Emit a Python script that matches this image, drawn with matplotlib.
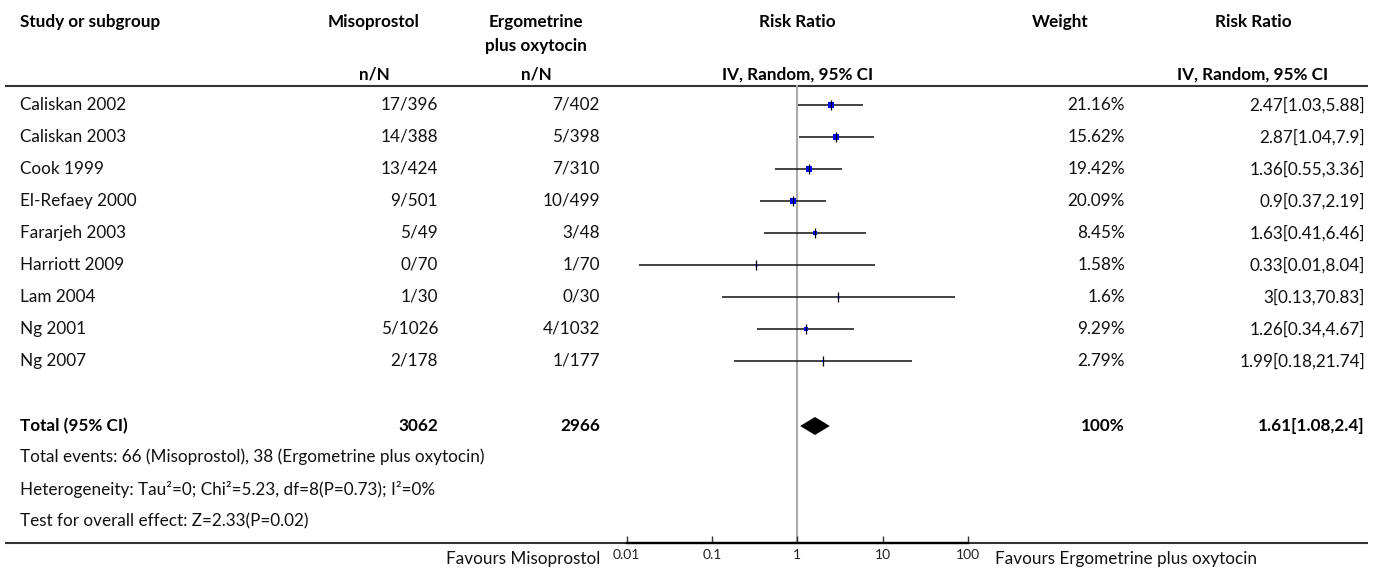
import matplotlib
matplotlib.use("Agg")
import matplotlib.pyplot as plt
import numpy as np

plt.rcParams['font.family'] = ['Lato', 'DejaVu Sans']

# ---------------- data ----------------
studies = ["Caliskan 2002", "Caliskan 2003", "Cook 1999", "El-Refaey 2000",
           "Fararjeh 2003", "Harriott 2009", "Lam 2004", "Ng 2001", "Ng 2007"]
miso_events = [17, 14, 13, 9, 5, 0, 1, 5, 2]
miso_totals = [396, 388, 424, 501, 49, 70, 30, 1026, 178]
ergo_events = [7, 5, 7, 10, 3, 1, 0, 4, 1]
ergo_totals = [402, 398, 310, 499, 48, 70, 30, 1032, 177]
rr = [2.47, 2.87, 1.36, 0.9, 1.63, 0.33, 3, 1.26, 1.99]
ci_low = [1.03, 1.04, 0.55, 0.37, 0.41, 0.014, 0.13, 0.34, 0.18]
ci_high = [5.88, 7.9, 3.36, 2.19, 6.46, 8.04, 70.83, 4.67, 21.74]
weights = [21.16, 15.62, 19.42, 20.09, 8.45, 1.58, 1.6, 9.29, 2.79]

total_miso = 3062
total_ergo = 2966
total_rr = 1.61
total_low = 1.08
total_high = 2.4
total_weight = 100

footer_lines = [
    "Total events: 66 (Misoprostol), 38 (Ergometrine plus oxytocin)",
    "Heterogeneity: Tau\u00b2=0; Chi\u00b2=5.23, df=8(P=0.73); I\u00b2=0%",
    "Test for overall effect: Z=2.33(P=0.02)",
]
tick_values = [0.01, 0.1, 1, 10, 100]
tick_labels = ["0.01", "0.1", "1", "10", "100"]
favours_left = "Favours Misoprostol"
favours_right = "Favours Ergometrine plus oxytocin"


def fmt(v):
    return f"{round(v, 2):g}"


# ---------------- layout (pixels) ----------------
W, H = 1375, 574
fig = plt.figure(figsize=(W / 100, H / 100), dpi=100)
ax = fig.add_axes([0, 0, 1, 1])
ax.set_xlim(0, W)
ax.set_ylim(H, 0)
ax.axis('off')

FS = 12.3
BOLD = dict(fontsize=FS, fontweight='bold', color='black')
NORM = dict(fontsize=FS, color='#111111')

x_name = 20
x_miso_head = 374
x_miso = 438
x_ergo_head = 536
x_ergo = 600
x_plot = 797.3
x_weight_head = 1060
x_weight = 1125
x_rr_head = 1253
x_rr = 1365

y_h1, y_h2, y_h3 = 22, 46, 75
y_hline = 86
row_y0, row_dy = 105, 32
y_total = 426
y_footer = [457, 489, 521]
y_bottom = 543

# headers
ax.text(x_name, y_h1, "Study or subgroup", ha='left', va='center', **BOLD)
ax.text(x_miso_head, y_h1, "Misoprostol", ha='center', va='center', **BOLD)
ax.text(x_ergo_head, y_h1, "Ergometrine", ha='center', va='center', **BOLD)
ax.text(x_ergo_head, y_h2, "plus oxytocin", ha='center', va='center', **BOLD)
ax.text(x_plot, y_h1, "Risk Ratio", ha='center', va='center', **BOLD)
ax.text(x_weight_head, y_h1, "Weight", ha='center', va='center', **BOLD)
ax.text(x_rr_head, y_h1, "Risk Ratio", ha='center', va='center', **BOLD)
ax.text(x_miso_head, y_h3, "n/N", ha='center', va='center', **BOLD)
ax.text(x_ergo_head, y_h3, "n/N", ha='center', va='center', **BOLD)
ax.text(x_plot, y_h3, "IV, Random, 95% CI", ha='center', va='center', **BOLD)
ax.text(x_rr_head, y_h3, "IV, Random, 95% CI", ha='center', va='center', **BOLD)
ax.plot([5, 1368], [y_hline, y_hline], color='#333333', lw=1.5, solid_capstyle='butt')

# rows
row_ys = [row_y0 + i * row_dy for i in range(len(studies))]
for i, y in enumerate(row_ys):
    ax.text(x_name, y, studies[i], ha='left', va='center', **NORM)
    ax.text(x_miso, y, f"{miso_events[i]}/{miso_totals[i]}", ha='right', va='center', **NORM)
    ax.text(x_ergo, y, f"{ergo_events[i]}/{ergo_totals[i]}", ha='right', va='center', **NORM)
    ax.text(x_weight, y, f"{weights[i]:g}%", ha='right', va='center', **NORM)
    ax.text(x_rr, y, f"{fmt(rr[i])}[{fmt(ci_low[i])},{fmt(ci_high[i])}]",
            ha='right', va='center', **NORM)

# total
ax.text(x_name, y_total, "Total (95% CI)", ha='left', va='center', **BOLD)
ax.text(x_miso, y_total, f"{total_miso}", ha='right', va='center', **BOLD)
ax.text(x_ergo, y_total, f"{total_ergo}", ha='right', va='center', **BOLD)
ax.text(x_weight, y_total, f"{total_weight}%", ha='right', va='center', **BOLD)
ax.text(x_rr, y_total, f"{fmt(total_rr)}[{fmt(total_low)},{fmt(total_high)}]",
        ha='right', va='center', **BOLD)

for y, t in zip(y_footer, footer_lines):
    ax.text(x_name, y, t, ha='left', va='center', **NORM)

ax.plot([5, 1368], [y_bottom, y_bottom], color='#333333', lw=1.5, solid_capstyle='butt')

# ---------------- forest axes ----------------
dec = 85.4
left_px = x_plot - 2 * dec
fx = fig.add_axes([left_px / W, (H - y_bottom) / H, 4 * dec / W, y_bottom / H])
fx.set_xscale('log')
fx.set_xlim(0.01, 100)
fx.set_ylim(y_bottom, 0)
fx.patch.set_alpha(0)
for s in ['top', 'left', 'right']:
    fx.spines[s].set_visible(False)
fx.spines['bottom'].set_linewidth(1.7)
fx.spines['bottom'].set_color('black')
fx.set_yticks([])
fx.set_xticks(tick_values)
fx.set_xticklabels(tick_labels)
fx.minorticks_off()
fx.tick_params(axis='x', direction='in', length=5, width=1, color='#333333',
               labelsize=10, pad=4, labelcolor='#222222')

fx.plot([1, 1], [y_hline, y_bottom], color='#aaaaaa', lw=1.5, zorder=1)

for i, y in enumerate(row_ys):
    fx.plot([ci_low[i], ci_high[i]], [y, y], color='#111111', lw=1.1, zorder=2,
            solid_capstyle='butt', clip_on=False)
    side_px = 1.5 * np.sqrt(weights[i])
    fx.plot([rr[i]], [y], marker='s', ms=side_px * 0.72, color='#0000ff',
            markeredgewidth=0, zorder=3, clip_on=False)
    fx.plot([rr[i]], [y], marker='|', ms=10 * 0.72, color='black',
            markeredgewidth=0.9, zorder=4, clip_on=False)

# diamond
dh = 9
fx.fill([total_low, total_rr, total_high, total_rr],
        [y_total, y_total - dh, y_total, y_total + dh], color='black', lw=0, zorder=3)

# favours labels
ax.text(600, 559, favours_left, ha='right', va='center', fontsize=FS, color='#111111')
ax.text(995, 559, favours_right, ha='left', va='center', fontsize=FS, color='#111111')

fig.savefig("out.png", dpi=100)
